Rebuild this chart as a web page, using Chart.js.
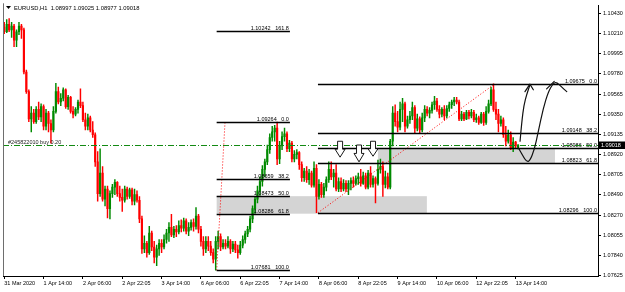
<!DOCTYPE html>
<html>
<head>
<meta charset="utf-8">
<script src="https://cdn.jsdelivr.net/npm/chart.js@4.4.1/dist/chart.umd.min.js"></script>
<style>
  html, body { margin: 0; padding: 0; background: #ffffff; }
  #wrap { position: relative; width: 625px; height: 292px; }
  canvas { display: block; }
</style>
</head>
<body>
<div id="wrap"><canvas id="c" width="625" height="292"></canvas></div>
<script>
// ---------------- DATA ----------------
const symbolTitle = "EURUSD,H1  1.08997 1.09025 1.08977 1.09018";
const timeLabels = ["31 Mar 2020","1 Apr 14:00","2 Apr 06:00","2 Apr 22:05","3 Apr 14:00","6 Apr 06:00","6 Apr 22:05","7 Apr 14:00","8 Apr 06:00","8 Apr 22:05","9 Apr 14:00","10 Apr 06:00","12 Apr 22:05","13 Apr 14:00"];
const LABEL_STEP = 16;      // bars between time labels
const FUTURE_BARS = 32;     // empty chart shift on the right
const yTickValues = [1.10430,1.10210,1.09995,1.09780,1.09565,1.09350,1.09135,1.08920,1.08705,1.08490,1.08270,1.08055,1.07840,1.07625];

const opens = [
1.1028,1.1023,1.1031,1.1025,1.1029,1.1014,1.1023,1.1029,1.1025,1.0980,
1.0959,1.0930,1.0936,1.0927,1.0940,1.0932,1.0943,1.0922,1.0936,1.0925,
1.0918,1.0938,1.0959,1.0948,1.0952,1.0961,1.0943,1.0953,1.0938,1.0935,
1.0940,1.0948,1.0944,1.0929,1.0922,1.0931,1.0918,1.0913,1.0884,1.0850,
1.0872,1.0844,1.0855,1.0834,1.0850,1.0857,1.0862,1.0850,1.0846,1.0843,
1.0855,1.0847,1.0854,1.0842,1.0849,1.0843,1.0823,1.0791,1.0797,1.0787,
1.0808,1.0793,1.0782,1.0791,1.0797,1.0793,1.0801,1.0808,1.0814,1.0806,
1.0812,1.0809,1.0816,1.0813,1.0821,1.0810,1.0814,1.0819,1.0815,1.0826,
1.0812,1.0799,1.0791,1.0799,1.0794,1.0787,1.0780,1.0799,1.0804,1.0793,
1.0797,1.0794,1.0799,1.0791,1.0796,1.0790,1.0787,1.0795,1.0801,1.0807,
1.0812,1.0823,1.0834,1.0844,1.0853,1.0863,1.0876,1.0884,1.0897,1.0910,
1.0916,1.0920,1.0887,1.0901,1.0911,1.0914,1.0898,1.0904,1.0887,1.0892,
1.0894,1.0881,1.0867,1.0874,1.0865,1.0872,1.0859,1.0877,1.0847,1.0860,
1.0849,1.0857,1.0865,1.0876,1.0868,1.0872,1.0855,1.0863,1.0855,1.0861,
1.0855,1.0861,1.0864,1.0861,1.0866,1.0868,1.0861,1.0869,1.0857,1.0872,
1.0860,1.0866,1.0861,1.0876,1.0879,1.0860,1.0868,1.0857,1.0906,1.0936,
1.0927,1.0921,1.0940,1.0946,1.0922,1.0929,1.0933,1.0942,1.0920,1.0930,
1.0918,1.0931,1.0940,1.0936,1.0939,1.0945,1.0949,1.0940,1.0935,1.0940,
1.0933,1.0941,1.0945,1.0948,1.0950,1.0948,1.0930,1.0935,1.0930,1.0937,
1.0933,1.0937,1.0929,1.0931,1.0926,1.0935,1.0926,1.0938,1.0946,1.0961,
1.0940,1.0935,1.0925,1.0929,1.0913,1.0906,1.0913,1.0899,1.0905,1.08997];

const highs = [
1.1033,1.1036,1.1037,1.1033,1.1031,1.1025,1.1033,1.1031,1.1027,1.0982,
1.0961,1.0943,1.0940,1.0943,1.0948,1.0946,1.0945,1.0940,1.0938,1.0929,
1.0943,1.0968,1.0964,1.0957,1.0963,1.0962,1.0955,1.0954,1.0943,1.0942,
1.0950,1.0962,1.0948,1.0936,1.0935,1.0933,1.0927,1.0915,1.0895,1.0898,
1.0879,1.0858,1.0858,1.0853,1.0860,1.0865,1.0863,1.0858,1.0855,1.0858,
1.0857,1.0856,1.0856,1.0855,1.0853,1.0847,1.0826,1.0805,1.0799,1.0815,
1.0810,1.0799,1.0795,1.0801,1.0801,1.0806,1.0812,1.0819,1.0828,1.0815,
1.0816,1.0821,1.0822,1.0824,1.0823,1.0819,1.0822,1.0823,1.0835,1.0828,
1.0815,1.0804,1.0804,1.0804,1.0799,1.0791,1.0804,1.0810,1.0807,1.0801,
1.0801,1.0804,1.0801,1.0799,1.0799,1.0795,1.0799,1.0805,1.0810,1.0815,
1.0826,1.0837,1.0847,1.0858,1.0868,1.0880,1.0887,1.0902,1.0914,1.0922,
1.0923,1.09264,1.0906,1.0916,1.0920,1.0916,1.0907,1.0906,1.0896,1.0897,
1.0895,1.0884,1.0877,1.0879,1.0876,1.0874,1.0884,1.0881,1.0865,1.0862,
1.0861,1.0868,1.0884,1.0884,1.0876,1.0881,1.0867,1.0867,1.0865,1.0864,
1.0864,1.0867,1.0868,1.0869,1.0872,1.0876,1.0873,1.0872,1.0875,1.0879,
1.0869,1.0868,1.0886,1.0887,1.0884,1.0874,1.0872,1.0908,1.0943,1.0945,
1.0938,1.0948,1.0952,1.0948,1.0933,1.0938,1.0948,1.0944,1.0935,1.0932,
1.0936,1.0944,1.0943,1.0942,1.0948,1.0954,1.0952,1.0944,1.0942,1.0944,
1.0944,1.0948,1.0950,1.0953,1.0953,1.0950,1.0938,1.0937,1.0939,1.0939,
1.0940,1.0939,1.0935,1.0933,1.0937,1.0937,1.0943,1.0950,1.0964,1.09675,
1.0948,1.0940,1.0933,1.0931,1.0922,1.0918,1.0916,1.0910,1.0906,1.09025];

const lows = [
1.1021,1.1022,1.1023,1.1017,1.1007,1.1007,1.1020,1.1016,1.0978,1.0957,
1.0927,1.0916,1.0925,1.0925,1.0929,1.0927,1.0918,1.0918,1.0916,1.0904,
1.0916,1.0936,1.0946,1.0944,1.0949,1.0941,1.0940,1.0936,1.0931,1.0933,
1.0936,1.0942,1.0927,1.0918,1.0918,1.0916,1.0910,1.0879,1.0842,1.0847,
1.0842,1.0837,1.0824,1.0823,1.0846,1.0849,1.0847,1.0842,1.0831,1.0841,
1.0844,1.0845,1.0838,1.0838,1.0841,1.0819,1.0786,1.0787,1.0782,1.0785,
1.0789,1.0776,1.0773,1.0784,1.0787,1.0791,1.0797,1.0799,1.0804,1.0803,
1.0804,1.0807,1.0809,1.0810,1.0807,1.0805,1.0811,1.0810,1.0812,1.0808,
1.0794,1.0784,1.0787,1.0789,1.0784,1.0776,1.07681,1.0791,1.0789,1.0791,
1.0791,1.0792,1.0786,1.0788,1.0787,1.0781,1.0785,1.0792,1.0797,1.0804,
1.0809,1.0819,1.0829,1.0840,1.0848,1.0858,1.0868,1.0881,1.0893,1.0906,
1.0906,1.0881,1.0882,1.0897,1.0906,1.0895,1.0895,1.0884,1.0884,1.0887,
1.0876,1.0863,1.0863,1.0862,1.0860,1.0857,1.0857,1.08296,1.0844,1.0846,
1.0846,1.0853,1.0862,1.0865,1.0857,1.0853,1.0852,1.0852,1.0853,1.0852,
1.0849,1.0854,1.0857,1.0859,1.0860,1.0858,1.0860,1.0855,1.0855,1.0857,
1.0857,1.0840,1.0859,1.0872,1.0847,1.0856,1.0855,1.0855,1.0901,1.0922,
1.0916,1.0918,1.0927,1.0916,1.0920,1.0925,1.0929,1.0914,1.0917,1.0915,
1.0916,1.0927,1.0933,1.0931,1.0936,1.0940,1.0938,1.0931,1.0932,1.0929,
1.0931,1.0938,1.0941,1.0944,1.0946,1.0928,1.0928,1.0928,1.0929,1.0930,
1.0931,1.0927,1.0926,1.0924,1.0925,1.0923,1.0924,1.0936,1.0944,1.0938,
1.0929,1.0916,1.0922,1.0910,1.0901,1.0904,1.0897,1.0895,1.0898,1.08977];

const closes = [
1.1023,1.1031,1.1025,1.1029,1.1014,1.1023,1.1029,1.1025,1.0980,1.0959,
1.0930,1.0936,1.0927,1.0940,1.0932,1.0943,1.0922,1.0936,1.0925,1.0918,
1.0938,1.0959,1.0948,1.0952,1.0961,1.0943,1.0953,1.0938,1.0935,1.0940,
1.0948,1.0944,1.0929,1.0922,1.0931,1.0918,1.0913,1.0884,1.0850,1.0872,
1.0844,1.0855,1.0834,1.0850,1.0857,1.0862,1.0850,1.0846,1.0843,1.0855,
1.0847,1.0854,1.0842,1.0849,1.0843,1.0823,1.0791,1.0797,1.0787,1.0808,
1.0793,1.0782,1.0791,1.0797,1.0793,1.0801,1.0808,1.0814,1.0806,1.0812,
1.0809,1.0816,1.0813,1.0821,1.0810,1.0814,1.0819,1.0815,1.0826,1.0812,
1.0799,1.0791,1.0799,1.0794,1.0787,1.0780,1.0799,1.0804,1.0793,1.0797,
1.0794,1.0799,1.0791,1.0796,1.0790,1.0787,1.0795,1.0801,1.0807,1.0812,
1.0823,1.0834,1.0844,1.0853,1.0863,1.0876,1.0884,1.0897,1.0910,1.0916,
1.0920,1.0887,1.0901,1.0911,1.0914,1.0898,1.0904,1.0887,1.0892,1.0894,
1.0881,1.0867,1.0874,1.0865,1.0872,1.0859,1.0877,1.0847,1.0860,1.0849,
1.0857,1.0865,1.0876,1.0868,1.0872,1.0855,1.0863,1.0855,1.0861,1.0855,
1.0861,1.0864,1.0861,1.0866,1.0868,1.0861,1.0869,1.0857,1.0872,1.0860,
1.0866,1.0861,1.0876,1.0879,1.0860,1.0868,1.0857,1.0906,1.0936,1.0927,
1.0921,1.0940,1.0946,1.0922,1.0929,1.0933,1.0942,1.0920,1.0930,1.0918,
1.0931,1.0940,1.0936,1.0939,1.0945,1.0949,1.0940,1.0935,1.0940,1.0933,
1.0941,1.0945,1.0948,1.0950,1.0948,1.0930,1.0935,1.0930,1.0937,1.0933,
1.0937,1.0929,1.0931,1.0926,1.0935,1.0926,1.0938,1.0946,1.0961,1.0940,
1.0935,1.0925,1.0929,1.0913,1.0906,1.0913,1.0899,1.0905,1.0901,1.09018];

// Fibonacci retracement #1 (low -> high, extended)
const fib1Levels = [0.0, 38.2, 50.0, 61.8, 100.0, 161.8];
const fib1Prices = [1.09264, 1.08659, 1.08473, 1.08286, 1.07681, 1.10242];
const fib1Bars   = [86.4, 116.2];
const fib1Trend  = { bars: [86.4, 89.8], prices: [1.07681, 1.09264] };
// Fibonacci retracement #2 (extends to right edge)
const fib2Levels = [0.0, 38.2, 50.0, 61.8, 100.0];
const fib2Prices = [1.09675, 1.09148, 1.08986, 1.08823, 1.08296];
const fib2StartBar = 127.6;
const fib2Trend  = { bars: [127.6, 199.6], prices: [1.08296, 1.09675] };
// grey zones
const zoneBars   = [[86.4, 171.9], [152.0, 224.0]];
const zonePrices = [[1.08473, 1.08286], [1.08986, 1.08823]];
// hollow down arrows
const arrowBars = [136.6, 144.3, 150.0];
const arrowTops = [1.0906, 1.0902, 1.0906];
const arrowTips = [1.0889, 1.0884, 1.0890];
// open order line
const orderPrice = 1.09015;
const orderText = "#245822010 buy 0.20";
// hand-drawn projection strokes
const stroke1Bars   = [209.8, 210.5, 211.4, 212.5, 213.8];
const stroke1Prices = [1.0906, 1.0927, 1.0945, 1.0956, 1.0966];
const head1Bars     = [211.8, 213.8, 215.2];
const head1Prices   = [1.0959, 1.0967, 1.0961];
const stroke2Bars   = [209.1, 211.0, 212.5, 213.8, 215.6, 217.2, 219.2, 221.3, 223.3, 224.7, 226.7, 228.8];
const stroke2Prices = [1.0899, 1.0890, 1.0884, 1.0885, 1.0897, 1.0916, 1.0941, 1.0959, 1.0968, 1.0969, 1.0964, 1.0959];
const head2Bars     = [220.6, 223.7];
const head2Prices   = [1.0962, 1.0970];

// ---------------- BUILD ----------------
const BULL = '#008a00', BEAR = '#ff0000';
const FONT = '"Liberation Sans", Arial, sans-serif';
const nBars = opens.length;
const categories = Array.from({length: nBars + FUTURE_BARS}, (_, i) => i);
const barColors = closes.map((c, i) => c >= opens[i] ? BULL : BEAR);
const wickData = lows.map((l, i) => [l, highs[i]]);
const bodyData = opens.map((o, i) => [o, closes[i]]);

const mtPlugin = {
  id: 'mtObjects',
  beforeDatasetsDraw(chart) {
    const {ctx, chartArea: a, scales: {x, y}} = chart;
    ctx.save();
    ctx.beginPath(); ctx.rect(a.left, a.top, a.right - a.left, a.bottom - a.top); ctx.clip();
    ctx.fillStyle = '#d4d4d4';
    zoneBars.forEach((b, k) => {
      const x0 = x.getPixelForValue(b[0]), x1 = x.getPixelForValue(b[1]);
      const y0 = y.getPixelForValue(zonePrices[k][0]), y1 = y.getPixelForValue(zonePrices[k][1]);
      ctx.fillRect(x0, y0, x1 - x0, y1 - y0);
    });
    ctx.restore();
  },
  afterDatasetsDraw(chart) {
    const {ctx, chartArea: a, scales: {x, y}} = chart;
    ctx.save();
    ctx.beginPath(); ctx.rect(a.left, a.top, a.right - a.left, a.bottom - a.top); ctx.clip();

    ctx.strokeStyle = '#ff0000'; ctx.lineWidth = 1; ctx.setLineDash([1, 2]);
    [fib1Trend, fib2Trend].forEach(t => {
      ctx.beginPath();
      ctx.moveTo(x.getPixelForValue(t.bars[0]), y.getPixelForValue(t.prices[0]));
      ctx.lineTo(x.getPixelForValue(t.bars[1]), y.getPixelForValue(t.prices[1]));
      ctx.stroke();
    });
    ctx.setLineDash([]);

    ctx.font = '5.5px ' + FONT; ctx.textAlign = 'right'; ctx.textBaseline = 'alphabetic';
    const drawFib = (levels, prices, xl, xr) => {
      levels.forEach((lv, k) => {
        const py = Math.round(y.getPixelForValue(prices[k])) + 0.5;
        ctx.strokeStyle = '#000'; ctx.lineWidth = 1.3;
        ctx.beginPath(); ctx.moveTo(xl, py); ctx.lineTo(xr, py); ctx.stroke();
        ctx.fillStyle = '#000';
        ctx.fillText(prices[k].toFixed(5) + '   ' + lv.toFixed(1), xr - 1, py - 1.5);
      });
    };
    drawFib(fib1Levels, fib1Prices, x.getPixelForValue(fib1Bars[0]), x.getPixelForValue(fib1Bars[1]));
    drawFib(fib2Levels, fib2Prices, x.getPixelForValue(fib2StartBar), a.right);

    const oy = Math.round(y.getPixelForValue(orderPrice)) + 0.5;
    ctx.strokeStyle = '#138a13'; ctx.lineWidth = 1.2; ctx.setLineDash([6, 2, 1, 2]);
    ctx.beginPath(); ctx.moveTo(a.left, oy); ctx.lineTo(a.right, oy); ctx.stroke();
    ctx.setLineDash([]);
    ctx.fillStyle = '#222'; ctx.textAlign = 'left';
    ctx.fillText(orderText, a.left + 5, oy - 2);

    ctx.lineWidth = 0.9; ctx.strokeStyle = '#000'; ctx.fillStyle = '#fff';
    arrowBars.forEach((b, k) => {
      const cx = x.getPixelForValue(b);
      const yt = y.getPixelForValue(arrowTops[k]), yb = y.getPixelForValue(arrowTips[k]);
      const ym = yt + (yb - yt) * 0.5;
      ctx.beginPath();
      ctx.moveTo(cx - 2.5, yt); ctx.lineTo(cx + 2.5, yt); ctx.lineTo(cx + 2.5, ym);
      ctx.lineTo(cx + 5, ym); ctx.lineTo(cx, yb); ctx.lineTo(cx - 5, ym);
      ctx.lineTo(cx - 2.5, ym); ctx.closePath();
      ctx.fill(); ctx.stroke();
    });

    const smooth = (bars, prices) => {
      const pts = bars.map((b, k) => [x.getPixelForValue(b), y.getPixelForValue(prices[k])]);
      ctx.beginPath(); ctx.moveTo(pts[0][0], pts[0][1]);
      for (let k = 1; k < pts.length - 1; k++) {
        const mx = (pts[k][0] + pts[k + 1][0]) / 2, my = (pts[k][1] + pts[k + 1][1]) / 2;
        ctx.quadraticCurveTo(pts[k][0], pts[k][1], mx, my);
      }
      const l = pts[pts.length - 1]; ctx.lineTo(l[0], l[1]);
      ctx.stroke();
    };
    const poly = (bars, prices) => {
      ctx.beginPath();
      bars.forEach((b, k) => {
        const px = x.getPixelForValue(b), py = y.getPixelForValue(prices[k]);
        k ? ctx.lineTo(px, py) : ctx.moveTo(px, py);
      });
      ctx.stroke();
    };
    ctx.strokeStyle = '#111'; ctx.lineWidth = 1.2; ctx.lineJoin = 'round'; ctx.lineCap = 'round';
    smooth(stroke1Bars, stroke1Prices); poly(head1Bars, head1Prices);
    smooth(stroke2Bars, stroke2Prices); poly(head2Bars, head2Prices);
    ctx.restore();

    ctx.save();
    ctx.strokeStyle = '#6e6e6e'; ctx.lineWidth = 1;
    ctx.beginPath(); ctx.moveTo(a.left + 0.5, a.top - 2); ctx.lineTo(a.left + 0.5, a.bottom); ctx.stroke();
    ctx.restore();
  },
  afterDraw(chart) {
    const {ctx, chartArea: a, scales: {y}} = chart;
    ctx.save();
    ctx.fillStyle = '#000';
    ctx.beginPath(); ctx.moveTo(a.left + 3, 6); ctx.lineTo(a.left + 8, 6); ctx.lineTo(a.left + 5.5, 9); ctx.closePath(); ctx.fill();
    ctx.font = '5.8px ' + FONT; ctx.textAlign = 'left'; ctx.textBaseline = 'middle';
    ctx.fillText(symbolTitle, a.left + 11, 8);
    const last = closes[closes.length - 1];
    const py = Math.round(y.getPixelForValue(last));
    ctx.fillStyle = '#000';
    ctx.fillRect(a.right + 1, py - 3.5, 26, 7.5);
    ctx.fillStyle = '#fff';
    ctx.font = '5.5px ' + FONT;
    ctx.fillText(last.toFixed(5), a.right + 3, py + 0.5);
    ctx.restore();
  }
};

new Chart(document.getElementById('c'), {
  type: 'bar',
  data: {
    labels: categories,
    datasets: [
      { label: 'body', data: bodyData, backgroundColor: barColors, barThickness: 1.5, grouped: false, borderWidth: 0, order: 0, minBarLength: 0.6 },
      { label: 'wick', data: wickData, backgroundColor: barColors, barThickness: 0.8, grouped: false, borderWidth: 0, order: 1 }
    ]
  },
  options: {
    responsive: false, animation: false, devicePixelRatio: 1,
    layout: { padding: { left: 3, top: 3, right: 0, bottom: 0 } },
    plugins: { legend: { display: false }, tooltip: { enabled: false } },
    scales: {
      x: {
        type: 'category', offset: true,
        grid: { display: true, drawOnChartArea: false, drawTicks: true, tickLength: 3, offset: false, color: '#000' },
        border: { display: true, color: '#000' },
        afterBuildTicks: s => { s.ticks = s.ticks.filter(t => t.value % LABEL_STEP === 0 && t.value / LABEL_STEP < timeLabels.length); },
        ticks: { autoSkip: false, maxRotation: 0, minRotation: 0, align: 'start', padding: 1, color: '#000',
                 font: { size: 5.5, family: FONT }, callback: v => timeLabels[v / LABEL_STEP] },
        afterFit: s => { s.height = 16; }
      },
      y: {
        position: 'right', min: 1.0762, max: 1.10513,
        grid: { display: true, drawOnChartArea: false, drawTicks: true, tickLength: 3, color: '#000' },
        border: { display: true, color: '#000' },
        afterBuildTicks: s => { s.ticks = yTickValues.map(v => ({ value: v })); },
        ticks: { padding: 2, color: '#000', font: { size: 5.5, family: FONT }, callback: v => v.toFixed(5) },
        afterFit: s => { s.width = 27; }
      }
    }
  },
  plugins: [mtPlugin]
});
</script>
</body>
</html>
